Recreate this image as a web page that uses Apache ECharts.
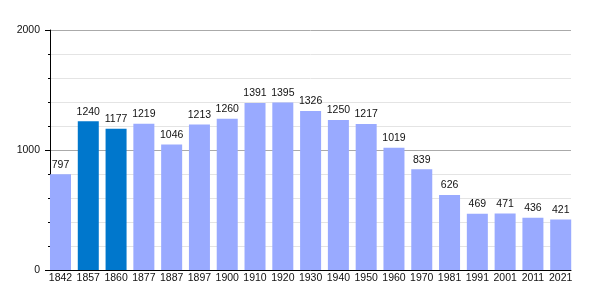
<!DOCTYPE html>
<html>
<head>
<meta charset="utf-8">
<script src="https://cdn.jsdelivr.net/npm/echarts@6/dist/echarts.min.js"></script>
<style>html,body{margin:0;padding:0;background:#fff}#c{width:600px;height:300px}</style>
</head>
<body>
<div id="c"></div>
<script>
const years = ['1842','1857','1860','1877','1887','1897','1900','1910','1920','1930','1940','1950','1960','1970','1981','1991','2001','2011','2021'];
const population = [797,1240,1177,1219,1046,1213,1260,1391,1395,1326,1250,1217,1019,839,626,469,471,436,421];
const highlighted = ['1857','1860'];
const yMax = 2000, yStep = 1000;

const LIGHT = '#99aaff', DARK = '#0077cc';
const chart = echarts.init(document.getElementById('c'), null, {renderer:'canvas'});
chart.setOption({
  animation:false,
  textStyle:{fontFamily:'Liberation Sans, Arial, sans-serif'},
  grid:[
    {left:46.6, top:30, width:528, bottom:30, containLabel:false},
    {left:50, top:30, width:521, bottom:30, containLabel:false}
  ],
  xAxis:[{
    gridIndex:0, type:'category', data:years,
    axisLine:{show:false},
    axisTick:{show:false},
    axisLabel:{color:'#111', fontSize:10.5, margin:3, interval:0}
  },{
    gridIndex:1, type:'value', min:0, max:1,
    axisLine:{show:true, lineStyle:{color:'#000'}},
    axisTick:{show:false}, axisLabel:{show:false}, splitLine:{show:false}
  }],
  yAxis:[{
    gridIndex:0, type:'value', min:0, max:yMax, show:false, splitLine:{show:false}
  },{
    gridIndex:1, type:'value', min:0, max:yMax, interval:yStep,
    axisLine:{show:true, lineStyle:{color:'#000'}},
    axisTick:{show:true, length:5, lineStyle:{color:'#000'}},
    minorTick:{show:true, splitNumber:5, length:2, lineStyle:{color:'#000'}},
    splitLine:{show:true, lineStyle:{color:'#aaaaaa'}},
    minorSplitLine:{show:true, lineStyle:{color:'#e4e4e4'}},
    axisLabel:{color:'#111', fontSize:10.5, margin:10, formatter:v=>String(v)}
  }],
  series:[{
    type:'bar', xAxisIndex:0, yAxisIndex:0, barWidth:21,
    data: population.map((v,i)=>({value:v, itemStyle:{color: highlighted.includes(years[i]) ? DARK : LIGHT}})),
    label:{show:true, position:'top', distance:4, color:'#111', fontSize:10.5}
  }]
});
</script>
</body>
</html>
